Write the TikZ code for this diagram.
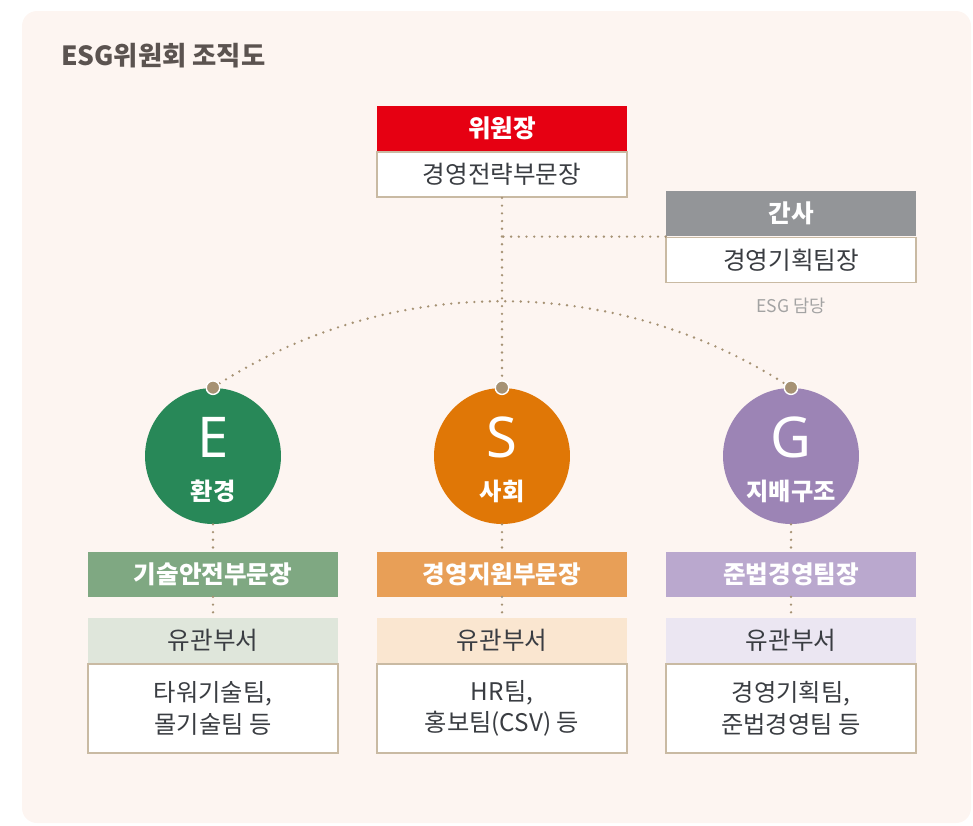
\documentclass[tikz,border=0pt]{standalone}
\usepackage{fontspec}
\setmainfont{Noto Sans CJK KR}
\newfontfamily\letterfont{Noto Sans}
\usetikzlibrary{positioning}
\definecolor{bgcol}{HTML}{FDF5F1}
\definecolor{titlecol}{HTML}{5B5350}
\definecolor{textcol}{HTML}{3A3D42}
\definecolor{redcol}{HTML}{E60012}
\definecolor{graycol}{HTML}{939598}
\definecolor{notecol}{HTML}{A3A3A3}
\definecolor{pincol}{HTML}{A69274}
\definecolor{boxline}{HTML}{C9BAA3}
\definecolor{greenball}{HTML}{288858}
\definecolor{orangeball}{HTML}{E07706}
\definecolor{purpleball}{HTML}{9C84B5}
\definecolor{greenbox}{HTML}{7FA882}
\definecolor{orangebox}{HTML}{E89F57}
\definecolor{purplebox}{HTML}{BAA8CE}
\definecolor{greenlight}{HTML}{DFE6DB}
\definecolor{orangelight}{HTML}{FAE6D0}
\definecolor{purplelight}{HTML}{EBE6F2}

\begin{document}
\begin{tikzpicture}[x=0.02cm,y=-0.02cm,
	headbox/.style={minimum width=5cm,minimum height=0.9cm,inner sep=0pt,text=white,font=\bfseries\fontsize{14}{16}\selectfont},
	bodybox/.style={draw=boxline,line width=1pt,fill=white,minimum width=5cm,minimum height=0.9cm,inner sep=0pt,text=textcol,font=\fontsize{14}{16}\selectfont},
	relhead/.style={minimum width=5cm,minimum height=0.9cm,inner sep=0pt,text=textcol,font=\fontsize{14}{16}\selectfont},
	relbody/.style={bodybox,minimum height=1.78cm,align=center,font=\fontsize{13.8}{18}\selectfont},
	ball/.style={circle,minimum size=2.72cm,inner sep=0pt},
	pin/.style={circle,fill=pincol,draw=white,line width=0.8pt,minimum size=0.27cm,inner sep=0pt},
	link/.style={pincol,line width=1.5pt,line cap=round,dash pattern=on 0pt off 4.4pt},
	bigletter/.style={text=white,font=\letterfont\fontsize{32}{34}\selectfont},
	balllabel/.style={text=white,font=\bfseries\fontsize{13.8}{16}\selectfont}]
	%\draw [help lines] (0,0) grid (973,825);
	\useasboundingbox (0,0) rectangle (973,825);
	\fill [bgcol, rounded corners=0.3cm] (22,11) rectangle (971,823);
	\node [anchor=west, text=titlecol, font=\bfseries\fontsize{15}{18}\selectfont] (title) at (55,56) {ESG위원회 조직도};

	% top
	\node [bodybox] (chair) at (502,174.5) {경영전략부문장};
	\node [headbox, fill=redcol, above=0pt of chair] (chairhead) {위원장};
	\node [bodybox] (sec) at (791,260) {경영기획팀장};
	\node [headbox, fill=graycol, above=0pt of sec] (sechead) {간사};
	\node [text=notecol, font=\fontsize{10}{12}\selectfont] (secnote) at (791,306) {ESG 담당};

	% circles
	\node [ball, fill=greenball] (eball) at (213,456) {};
	\node [ball, fill=orangeball] (sball) at (502,456) {};
	\node [ball, fill=purpleball] (gball) at (791,456) {};
	\node [bigletter] (eletter) at (213,437) {E};
	\node [bigletter] (sletter) at (502,437) {S};
	\node [bigletter] (gletter) at (791,437) {G};
	\node [balllabel] (elabel) at (213,491) {환경};
	\node [balllabel] (slabel) at (502,491) {사회};
	\node [balllabel] (glabel) at (791,491) {지배구조};

	% departments
	\node [headbox, fill=greenbox] (edept) at (213,574) {기술안전부문장};
	\node [headbox, fill=orangebox] (sdept) at (502,574) {경영지원부문장};
	\node [headbox, fill=purplebox] (gdept) at (791,574) {준법경영팀장};
	\node [relbody] (erel) at (213,708.5) {타워기술팀,\\몰기술팀 등};
	\node [relbody] (srel) at (502,708.5) {HR팀,\\홍보팀(CSV) 등};
	\node [relbody] (grel) at (791,708.5) {경영기획팀,\\준법경영팀 등};
	\node [relhead, fill=greenlight, above=0pt of erel] (erelhead) {유관부서};
	\node [relhead, fill=orangelight, above=0pt of srel] (srelhead) {유관부서};
	\node [relhead, fill=purplelight, above=0pt of grel] (grelhead) {유관부서};

	% dotted links
	\draw [link] (chair.south) -- (sball.north);
	\draw [link] (sechead.south west) -- (chair.south |- sechead.south west);
	\draw [link] (eball.north) .. controls (388.4,272.4) and (615.6,272.4) .. (gball.north);
	\draw [link] (eball.south) -- (edept.north);
	\draw [link] (sball.south) -- (sdept.north);
	\draw [link] (gball.south) -- (gdept.north);
	\draw [link] (edept.south) -- (erelhead.north);
	\draw [link] (sdept.south) -- (srelhead.north);
	\draw [link] (gdept.south) -- (grelhead.north);
	\node [pin] (epin) at (eball.north) {};
	\node [pin] (spin) at (sball.north) {};
	\node [pin] (gpin) at (gball.north) {};
\end{tikzpicture}
\end{document}
